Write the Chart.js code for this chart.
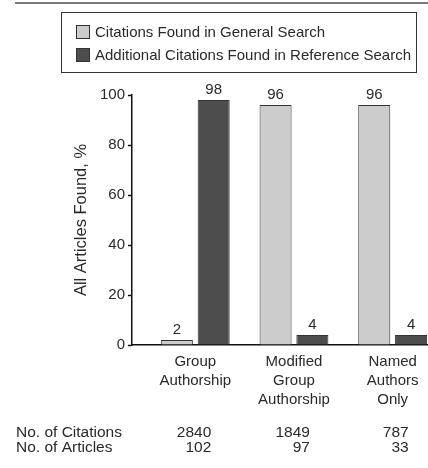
<!DOCTYPE html>
<html>
<head>
<meta charset="utf-8">
<script src="https://cdn.jsdelivr.net/npm/chart.js@4.4.1/dist/chart.umd.min.js"></script>
<style>
  html, body { margin: 0; padding: 0; background: #fff; overflow: hidden; }
  #wrap { width: 428px; height: 468px; }
</style>
</head>
<body>
<div id="wrap"><canvas id="chart" width="428" height="468"></canvas></div>
<script>
// chart data
const categories = [["Group", "Authorship"], ["Modified", "Group", "Authorship"], ["Named", "Authors", "Only"]];
const seriesNames = ["Citations Found in General Search", "Additional Citations Found in Reference Search"];
const generalSearch = [2, 96, 96];
const referenceSearch = [98, 4, 4];
const yTicks = [0, 20, 40, 60, 80, 100];
const tableRows = ["No. of Citations", "No. of Articles"];
const citations = [2840, 1849, 787];
const articles = [102, 97, 33];

const FONT = "'Liberation Sans', Arial, sans-serif";
const TEXT = "#2a2a2a";
const LIGHT = "#cccccc";
const DARK = "#4d4d4d";
const EDGE = "#333333";

const toPoints = (arr) => arr.map((v, i) => ({ x: i, y: v }));

// legend box, rule at the top, value labels and the table under the axis
const extras = {
    id: "extras",
    afterDraw(chart) {
        const ctx = chart.ctx;
        ctx.save();

        ctx.strokeStyle = "#7a7a7a";
        ctx.lineWidth = 2;
        ctx.beginPath();
        ctx.moveTo(15, 3);
        ctx.lineTo(428, 3);
        ctx.stroke();

        ctx.strokeStyle = EDGE;
        ctx.lineWidth = 1;
        ctx.strokeRect(61.5, 12.5, 355, 60);
        ctx.font = "15px " + FONT;
        ctx.textBaseline = "middle";
        ctx.textAlign = "left";
        chart.data.datasets.forEach((ds, i) => {
            const cy = 32 + i * 23;
            ctx.fillStyle = ds.backgroundColor;
            ctx.fillRect(76.5, cy - 6.5, 13, 13);
            ctx.strokeRect(76.5, cy - 6.5, 13, 13);
            ctx.fillStyle = TEXT;
            ctx.fillText(ds.label, 95, cy + 1);
        });

        ctx.textAlign = "center";
        ctx.textBaseline = "middle";
        chart.data.datasets.forEach((ds, i) => {
            chart.getDatasetMeta(i).data.forEach((bar, j) => {
                ctx.fillText(String(ds.data[j].y), bar.x, bar.y - 10);
            });
        });

        const xs = chart.scales.x;
        const rows = [citations, articles];
        ctx.font = "15.5px " + FONT;
        rows.forEach((vals, r) => {
            const cy = 433 + r * 15;
            ctx.textAlign = "left";
            ctx.fillText(tableRows[r], 16, cy);
            ctx.textAlign = "right";
            vals.forEach((v, i) => {
                ctx.fillText(String(v), xs.getPixelForValue(i) + 16, cy);
            });
        });
        ctx.restore();
    }
};

new Chart(document.getElementById("chart"), {
    type: "bar",
    data: {
        datasets: [
            {
                label: seriesNames[0],
                data: toPoints(generalSearch),
                backgroundColor: LIGHT,
                borderColor: EDGE,
                borderWidth: 1,
                borderSkipped: "bottom",
            },
            {
                label: seriesNames[1],
                data: toPoints(referenceSearch),
                backgroundColor: DARK,
                borderColor: EDGE,
                borderWidth: 1,
                borderSkipped: "bottom",
            },
        ],
    },
    options: {
        responsive: false,
        animation: false,
        devicePixelRatio: 1,
        categoryPercentage: 0.746,
        barPercentage: 0.87,
        layout: { padding: { top: 95, right: 0, left: 0, bottom: 0 } },
        plugins: { legend: { display: false }, tooltip: { enabled: false } },
        scales: {
            x: {
                type: "linear",
                offset: false,
                min: -0.641,
                max: 2.358,
                afterBuildTicks: (s) => { s.ticks = categories.map((c, i) => ({ value: i })); },
                afterFit: (s) => { s.height = 123; },
                grid: { display: true, drawOnChartArea: false, drawTicks: false },
                border: { display: true, color: "#111", width: 1.5 },
                ticks: {
                    autoSkip: false,
                    maxRotation: 0,
                    padding: 7,
                    color: TEXT,
                    font: { family: FONT, size: 15, lineHeight: 1.27 },
                    callback: (v) => categories[v],
                },
            },
            y: {
                min: 0,
                max: 100,
                afterBuildTicks: (s) => { s.ticks = yTicks.map((v) => ({ value: v })); },
                afterFit: (s) => { s.width = 132; },
                grid: { drawOnChartArea: false, tickLength: 4, tickColor: "#111", tickWidth: 1.5 },
                border: { display: true, color: "#111", width: 1.5 },
                ticks: { padding: 3, color: TEXT, font: { family: FONT, size: 15 } },
                title: {
                    display: true,
                    text: "All Articles Found, %",
                    color: TEXT,
                    font: { family: FONT, size: 16.5 },
                    padding: { top: 72, bottom: 0 },
                },
            },
        },
    },
    plugins: [extras],
});
</script>
</body>
</html>
